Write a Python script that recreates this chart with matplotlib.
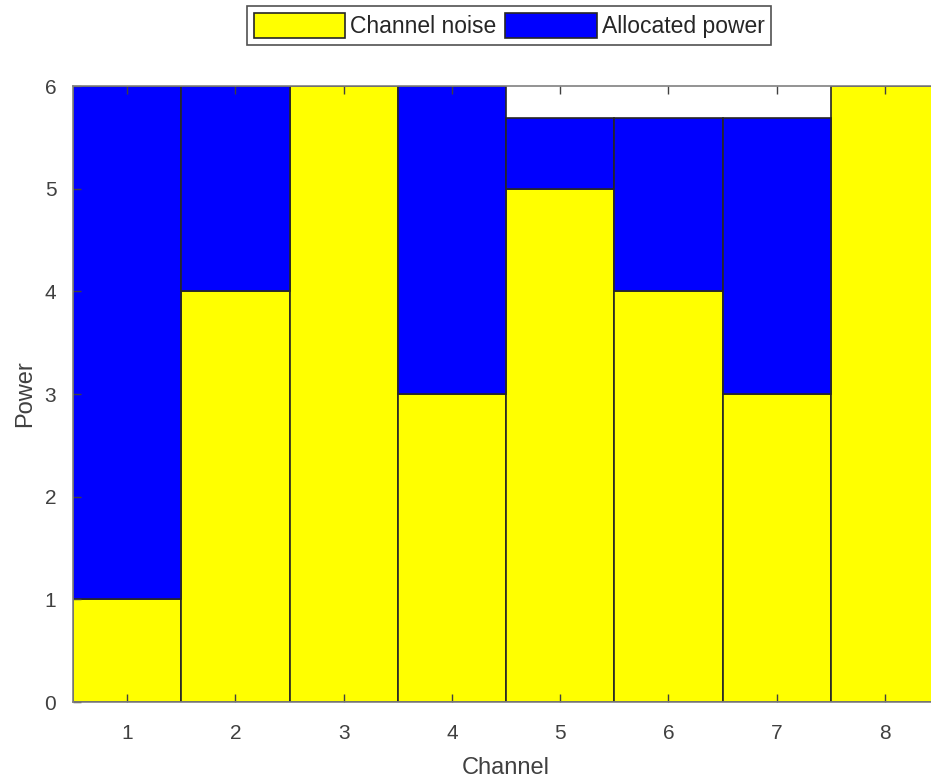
import matplotlib
matplotlib.use("Agg")
import matplotlib.pyplot as plt
import numpy as np

plt.rcParams['font.family'] = ['Liberation Sans', 'DejaVu Sans']

channels = [1, 2, 3, 4, 5, 6, 7, 8]
noise = [1, 4, 6, 3, 5, 4, 3, 6]
power = [5, 2, 0, 3, 0.69, 1.69, 2.69, 0]
xtick_labels = ['1', '2', '3', '4', '5', '6', '7', '8']
yticks = [0, 1, 2, 3, 4, 5, 6]

fig = plt.figure(figsize=(9.31, 7.81), dpi=100)
ax = fig.add_axes([73/931, 79/781, 866/931, 616/781])

edge = '#262626'
b1 = ax.bar(channels, noise, width=1.0, color='#FFFF00', edgecolor=edge, linewidth=1.2,
            label='Channel noise')
b2 = ax.bar(channels, power, width=1.0, bottom=noise, color='#0000FF', edgecolor=edge,
            linewidth=1.2, label='Allocated power')

ax.set_xlim(0.5, 8.5)
ax.set_ylim(0, 6)
ax.set_xticks(channels)
ax.set_xticklabels(xtick_labels)
ax.set_yticks(yticks)
ax.tick_params(axis='x', pad=16)
ax.tick_params(axis='y', pad=12)
ax.tick_params(direction='in', length=6, width=1.0, colors='#404040', labelsize=15,
               top=True, right=True)
for s in ax.spines.values():
    s.set_color('#808080')
    s.set_linewidth(1.2)
ax.set_xlabel('Channel', fontsize=17, color='#404040', labelpad=10)
ax.set_ylabel('Power', fontsize=17, color='#404040', labelpad=6)

leg = fig.legend(handles=[b1, b2], loc='upper center', bbox_to_anchor=(509/931, 1 - 6/781),
                 ncol=2, fontsize=16.5, frameon=True, fancybox=False, edgecolor='#262626',
                 handlelength=4.0, handleheight=1.3, handletextpad=0.2, columnspacing=0.4,
                 borderpad=0.3, borderaxespad=0)
leg.get_frame().set_linewidth(1.2)
for t in leg.get_texts():
    t.set_color('#262626')

fig.savefig('out.png', dpi=100)
